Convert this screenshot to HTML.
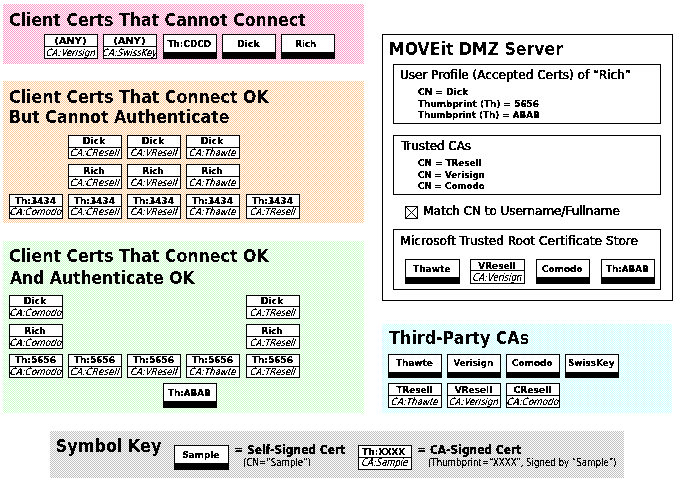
<!DOCTYPE html>
<html lang="en"><head><meta charset="utf-8"><title>MOVEit DMZ Client Certificates</title>
<style>
html,body{margin:0;padding:0;background:#fff;}
body{width:677px;height:482px;overflow:hidden;}
svg{display:block;font-family:"DejaVu Sans Condensed","DejaVu Sans","Liberation Sans",sans-serif;fill:#000;}
</style></head><body>
<svg width="677" height="482" viewBox="0 0 677 482" shape-rendering="crispEdges">
<defs>
<pattern id="pink" x="0" y="0" width="2" height="2" patternUnits="userSpaceOnUse"><rect width="2" height="2" fill="#fff"/><rect x="0" y="0" width="1" height="1" fill="#ff99cc"/><rect x="1" y="1" width="1" height="1" fill="#ff99cc"/></pattern>
<pattern id="orange" x="0" y="0" width="2" height="2" patternUnits="userSpaceOnUse"><rect width="2" height="2" fill="#fff"/><rect x="0" y="0" width="1" height="1" fill="#ffcc99"/><rect x="1" y="1" width="1" height="1" fill="#ffcc99"/></pattern>
<pattern id="green" x="0" y="0" width="2" height="2" patternUnits="userSpaceOnUse"><rect width="2" height="2" fill="#fff"/><rect x="0" y="0" width="1" height="1" fill="#ccffcc"/><rect x="1" y="1" width="1" height="1" fill="#ccffcc"/></pattern>
<pattern id="cyan" x="0" y="0" width="2" height="2" patternUnits="userSpaceOnUse"><rect width="2" height="2" fill="#fff"/><rect x="0" y="0" width="1" height="1" fill="#ccffff"/><rect x="1" y="1" width="1" height="1" fill="#ccffff"/></pattern>
<pattern id="grey" x="0" y="0" width="2" height="2" patternUnits="userSpaceOnUse"><rect width="2" height="2" fill="#fff"/><rect x="0" y="0" width="1" height="1" fill="#c0c0c0"/><rect x="1" y="1" width="1" height="1" fill="#c0c0c0"/></pattern>
<filter id="fh" x="0" y="0" width="100%" height="100%" filterUnits="userSpaceOnUse" color-interpolation-filters="sRGB"><feComponentTransfer><feFuncA type="discrete" tableValues="0 1"/></feComponentTransfer></filter>
<filter id="fb" x="0" y="0" width="100%" height="100%" filterUnits="userSpaceOnUse" color-interpolation-filters="sRGB"><feComponentTransfer><feFuncA type="discrete" tableValues="0 0 1 1 1"/></feComponentTransfer></filter>
<filter id="fr" x="0" y="0" width="100%" height="100%" filterUnits="userSpaceOnUse" color-interpolation-filters="sRGB"><feComponentTransfer><feFuncA type="discrete" tableValues="0 0 1 1 1"/></feComponentTransfer></filter>
<filter id="fs" x="0" y="0" width="100%" height="100%" filterUnits="userSpaceOnUse" color-interpolation-filters="sRGB"><feComponentTransfer><feFuncA type="discrete" tableValues="0 0 1 1 1"/></feComponentTransfer></filter>
<filter id="fi" x="0" y="0" width="100%" height="100%" filterUnits="userSpaceOnUse" color-interpolation-filters="sRGB"><feComponentTransfer><feFuncA type="discrete" tableValues="0 0 0 0 1 1 1 1 1 1 1"/></feComponentTransfer></filter>
</defs>
<rect width="677" height="482" fill="#fff"/>
<rect x="3" y="4" width="361" height="60" fill="url(#pink)"/>
<rect x="3" y="81" width="361" height="142" fill="url(#orange)"/>
<rect x="3" y="241" width="361" height="172" fill="url(#green)"/>
<rect x="382" y="324" width="290" height="89" fill="url(#cyan)"/>
<rect x="50" y="431" width="574" height="47" fill="url(#grey)"/>
<rect x="44.5" y="34.5" width="53" height="24" fill="#fff" stroke="#000" stroke-width="1"/>
<rect x="44" y="46" width="54" height="1" fill="#000"/>
<rect x="103.5" y="34.5" width="53" height="24" fill="#fff" stroke="#000" stroke-width="1"/>
<rect x="103" y="46" width="54" height="1" fill="#000"/>
<rect x="163.5" y="34.5" width="53" height="24" fill="#fff" stroke="#000" stroke-width="1"/>
<rect x="163" y="52" width="54" height="7" fill="#000"/>
<rect x="222.5" y="34.5" width="53" height="24" fill="#fff" stroke="#000" stroke-width="1"/>
<rect x="222" y="52" width="54" height="7" fill="#000"/>
<rect x="281.5" y="34.5" width="53" height="24" fill="#fff" stroke="#000" stroke-width="1"/>
<rect x="281" y="52" width="54" height="7" fill="#000"/>
<rect x="68.5" y="135.5" width="53" height="23" fill="#fff" stroke="#000" stroke-width="1"/>
<rect x="68" y="147" width="54" height="1" fill="#000"/>
<rect x="68.5" y="164.5" width="53" height="24" fill="#fff" stroke="#000" stroke-width="1"/>
<rect x="68" y="176" width="54" height="1" fill="#000"/>
<rect x="127.5" y="135.5" width="53" height="23" fill="#fff" stroke="#000" stroke-width="1"/>
<rect x="127" y="147" width="54" height="1" fill="#000"/>
<rect x="127.5" y="164.5" width="53" height="24" fill="#fff" stroke="#000" stroke-width="1"/>
<rect x="127" y="176" width="54" height="1" fill="#000"/>
<rect x="186.5" y="135.5" width="53" height="23" fill="#fff" stroke="#000" stroke-width="1"/>
<rect x="186" y="147" width="54" height="1" fill="#000"/>
<rect x="186.5" y="164.5" width="53" height="24" fill="#fff" stroke="#000" stroke-width="1"/>
<rect x="186" y="176" width="54" height="1" fill="#000"/>
<rect x="9.5" y="194.5" width="53" height="24" fill="#fff" stroke="#000" stroke-width="1"/>
<rect x="9" y="206" width="54" height="1" fill="#000"/>
<rect x="68.5" y="194.5" width="53" height="24" fill="#fff" stroke="#000" stroke-width="1"/>
<rect x="68" y="206" width="54" height="1" fill="#000"/>
<rect x="127.5" y="194.5" width="53" height="24" fill="#fff" stroke="#000" stroke-width="1"/>
<rect x="127" y="206" width="54" height="1" fill="#000"/>
<rect x="186.5" y="194.5" width="53" height="24" fill="#fff" stroke="#000" stroke-width="1"/>
<rect x="186" y="206" width="54" height="1" fill="#000"/>
<rect x="246.5" y="194.5" width="53" height="24" fill="#fff" stroke="#000" stroke-width="1"/>
<rect x="246" y="206" width="54" height="1" fill="#000"/>
<rect x="9.5" y="295.5" width="53" height="23" fill="#fff" stroke="#000" stroke-width="1"/>
<rect x="9" y="306" width="54" height="1" fill="#000"/>
<rect x="9.5" y="324.5" width="53" height="24" fill="#fff" stroke="#000" stroke-width="1"/>
<rect x="9" y="336" width="54" height="1" fill="#000"/>
<rect x="246.5" y="295.5" width="53" height="23" fill="#fff" stroke="#000" stroke-width="1"/>
<rect x="246" y="306" width="54" height="1" fill="#000"/>
<rect x="246.5" y="324.5" width="53" height="24" fill="#fff" stroke="#000" stroke-width="1"/>
<rect x="246" y="336" width="54" height="1" fill="#000"/>
<rect x="9.5" y="354.5" width="53" height="23" fill="#fff" stroke="#000" stroke-width="1"/>
<rect x="9" y="366" width="54" height="1" fill="#000"/>
<rect x="68.5" y="354.5" width="53" height="23" fill="#fff" stroke="#000" stroke-width="1"/>
<rect x="68" y="366" width="54" height="1" fill="#000"/>
<rect x="127.5" y="354.5" width="53" height="23" fill="#fff" stroke="#000" stroke-width="1"/>
<rect x="127" y="366" width="54" height="1" fill="#000"/>
<rect x="186.5" y="354.5" width="53" height="23" fill="#fff" stroke="#000" stroke-width="1"/>
<rect x="186" y="366" width="54" height="1" fill="#000"/>
<rect x="246.5" y="354.5" width="53" height="23" fill="#fff" stroke="#000" stroke-width="1"/>
<rect x="246" y="366" width="54" height="1" fill="#000"/>
<rect x="163.5" y="383.5" width="53" height="24" fill="#fff" stroke="#000" stroke-width="1"/>
<rect x="163" y="401" width="54" height="7" fill="#000"/>
<rect x="382.5" y="34.5" width="290" height="266" fill="#fff" stroke="#000" stroke-width="1"/>
<rect x="393.5" y="64.5" width="267" height="59" fill="#fff" stroke="#000" stroke-width="1"/>
<rect x="393.5" y="135.5" width="267" height="59" fill="#fff" stroke="#000" stroke-width="1"/>
<rect x="405.5" y="206.5" width="12" height="12" fill="#fff" stroke="#000" stroke-width="1"/>
<path d="M405.5 206.5L417.5 218.5M417.5 206.5L405.5 218.5" stroke="#000" stroke-width="1" fill="none" shape-rendering="auto"/>
<rect x="393.5" y="229.5" width="267" height="60" fill="#fff" stroke="#000" stroke-width="1"/>
<rect x="405.5" y="259.5" width="54" height="24" fill="#fff" stroke="#000" stroke-width="1"/>
<rect x="405" y="277" width="55" height="7" fill="#000"/>
<rect x="470.5" y="259.5" width="54" height="24" fill="#fff" stroke="#000" stroke-width="1"/>
<rect x="470" y="270" width="55" height="1" fill="#000"/>
<rect x="536.5" y="259.5" width="53" height="24" fill="#fff" stroke="#000" stroke-width="1"/>
<rect x="536" y="277" width="54" height="7" fill="#000"/>
<rect x="601.5" y="259.5" width="53" height="24" fill="#fff" stroke="#000" stroke-width="1"/>
<rect x="601" y="277" width="54" height="7" fill="#000"/>
<rect x="388.5" y="354.5" width="53" height="23" fill="#fff" stroke="#000" stroke-width="1"/>
<rect x="388" y="372" width="54" height="6" fill="#000"/>
<rect x="447.5" y="354.5" width="53" height="23" fill="#fff" stroke="#000" stroke-width="1"/>
<rect x="447" y="372" width="54" height="6" fill="#000"/>
<rect x="506.5" y="354.5" width="53" height="23" fill="#fff" stroke="#000" stroke-width="1"/>
<rect x="506" y="372" width="54" height="6" fill="#000"/>
<rect x="565.5" y="354.5" width="53" height="23" fill="#fff" stroke="#000" stroke-width="1"/>
<rect x="565" y="372" width="54" height="6" fill="#000"/>
<rect x="388.5" y="383.5" width="53" height="24" fill="#fff" stroke="#000" stroke-width="1"/>
<rect x="388" y="395" width="54" height="1" fill="#000"/>
<rect x="447.5" y="383.5" width="53" height="24" fill="#fff" stroke="#000" stroke-width="1"/>
<rect x="447" y="395" width="54" height="1" fill="#000"/>
<rect x="506.5" y="383.5" width="53" height="24" fill="#fff" stroke="#000" stroke-width="1"/>
<rect x="506" y="395" width="54" height="1" fill="#000"/>
<rect x="174.5" y="445.5" width="54" height="24" fill="#fff" stroke="#000" stroke-width="1"/>
<rect x="174" y="463" width="55" height="7" fill="#000"/>
<rect x="358.5" y="445.5" width="53" height="24" fill="#fff" stroke="#000" stroke-width="1"/>
<rect x="358" y="457" width="54" height="1" fill="#000"/>
<g filter="url(#fh)">
<text x="9" y="26" font-size="17.33" font-weight="bold" textLength="296.7" lengthAdjust="spacingAndGlyphs">Client Certs That Cannot Connect</text>
<text x="9" y="103" font-size="17.33" font-weight="bold" textLength="259.7" lengthAdjust="spacingAndGlyphs">Client Certs That Connect OK</text>
<text x="9" y="123" font-size="17.33" font-weight="bold" textLength="220.5" lengthAdjust="spacingAndGlyphs">But Cannot Authenticate</text>
<text x="9" y="262" font-size="17.33" font-weight="bold" textLength="259.7" lengthAdjust="spacingAndGlyphs">Client Certs That Connect OK</text>
<text x="10" y="284" font-size="17.33" font-weight="bold" textLength="184.5" lengthAdjust="spacingAndGlyphs">And Authenticate OK</text>
<text x="389" y="55" font-size="17.33" font-weight="bold" textLength="174" lengthAdjust="spacingAndGlyphs">MOVEit DMZ Server</text>
<text x="389.3" y="344" font-size="17.33" font-weight="bold" textLength="139.8" lengthAdjust="spacingAndGlyphs">Third-Party CAs</text>
<text x="55.8" y="452" font-size="17.33" font-weight="bold" textLength="105.6" lengthAdjust="spacingAndGlyphs">Symbol Key</text>
</g>
<g filter="url(#fb)" stroke="#000" stroke-width="0.1">
<text x="54.5" y="44.3" font-size="9.5" font-weight="bold" textLength="32" lengthAdjust="spacingAndGlyphs">(ANY)</text>
<text x="113.5" y="44.3" font-size="9.5" font-weight="bold" textLength="32" lengthAdjust="spacingAndGlyphs">(ANY)</text>
<text x="167.5" y="47.3" font-size="9.5" font-weight="bold" textLength="43.6" lengthAdjust="spacingAndGlyphs">Th:CDCD</text>
<text x="237" y="47.3" font-size="9.5" font-weight="bold" textLength="22.6" lengthAdjust="spacingAndGlyphs">Dick</text>
<text x="295.55" y="47.3" font-size="9.5" font-weight="bold" textLength="20.5" lengthAdjust="spacingAndGlyphs">Rich</text>
<text x="82.7" y="144.3" font-size="9.5" font-weight="bold" textLength="22.6" lengthAdjust="spacingAndGlyphs">Dick</text>
<text x="83.75" y="174.3" font-size="9.5" font-weight="bold" textLength="20.5" lengthAdjust="spacingAndGlyphs">Rich</text>
<text x="141.7" y="144.3" font-size="9.5" font-weight="bold" textLength="22.6" lengthAdjust="spacingAndGlyphs">Dick</text>
<text x="142.75" y="174.3" font-size="9.5" font-weight="bold" textLength="20.5" lengthAdjust="spacingAndGlyphs">Rich</text>
<text x="200.7" y="144.3" font-size="9.5" font-weight="bold" textLength="22.6" lengthAdjust="spacingAndGlyphs">Dick</text>
<text x="201.75" y="174.3" font-size="9.5" font-weight="bold" textLength="20.5" lengthAdjust="spacingAndGlyphs">Rich</text>
<text x="15" y="204.3" font-size="9.5" font-weight="bold" textLength="41" lengthAdjust="spacingAndGlyphs">Th:3434</text>
<text x="74" y="204.3" font-size="9.5" font-weight="bold" textLength="41" lengthAdjust="spacingAndGlyphs">Th:3434</text>
<text x="133" y="204.3" font-size="9.5" font-weight="bold" textLength="41" lengthAdjust="spacingAndGlyphs">Th:3434</text>
<text x="192" y="204.3" font-size="9.5" font-weight="bold" textLength="41" lengthAdjust="spacingAndGlyphs">Th:3434</text>
<text x="252" y="204.3" font-size="9.5" font-weight="bold" textLength="41" lengthAdjust="spacingAndGlyphs">Th:3434</text>
<text x="23.7" y="304.3" font-size="9.5" font-weight="bold" textLength="22.6" lengthAdjust="spacingAndGlyphs">Dick</text>
<text x="24.75" y="334.3" font-size="9.5" font-weight="bold" textLength="20.5" lengthAdjust="spacingAndGlyphs">Rich</text>
<text x="260.7" y="304.3" font-size="9.5" font-weight="bold" textLength="22.6" lengthAdjust="spacingAndGlyphs">Dick</text>
<text x="261.75" y="334.3" font-size="9.5" font-weight="bold" textLength="20.5" lengthAdjust="spacingAndGlyphs">Rich</text>
<text x="15" y="363.3" font-size="9.5" font-weight="bold" textLength="41" lengthAdjust="spacingAndGlyphs">Th:5656</text>
<text x="74" y="363.3" font-size="9.5" font-weight="bold" textLength="41" lengthAdjust="spacingAndGlyphs">Th:5656</text>
<text x="133" y="363.3" font-size="9.5" font-weight="bold" textLength="41" lengthAdjust="spacingAndGlyphs">Th:5656</text>
<text x="192" y="363.3" font-size="9.5" font-weight="bold" textLength="41" lengthAdjust="spacingAndGlyphs">Th:5656</text>
<text x="252" y="363.3" font-size="9.5" font-weight="bold" textLength="41" lengthAdjust="spacingAndGlyphs">Th:5656</text>
<text x="168.05" y="396.3" font-size="9.5" font-weight="bold" textLength="42.5" lengthAdjust="spacingAndGlyphs">Th:ABAB</text>
<text x="418" y="95.3" font-size="9.5" font-weight="bold" textLength="50" lengthAdjust="spacingAndGlyphs">CN = Dick</text>
<text x="418" y="107.3" font-size="9.5" font-weight="bold" textLength="121" lengthAdjust="spacingAndGlyphs">Thumbprint (Th) = 5656</text>
<text x="418" y="118.3" font-size="9.5" font-weight="bold" textLength="121.8" lengthAdjust="spacingAndGlyphs">Thumbprint (Th) = ABAB</text>
<text x="418" y="166.3" font-size="9.5" font-weight="bold" textLength="63.6" lengthAdjust="spacingAndGlyphs">CN = TResell</text>
<text x="418" y="177.8" font-size="9.5" font-weight="bold" textLength="66.8" lengthAdjust="spacingAndGlyphs">CN = Verisign</text>
<text x="418" y="189.3" font-size="9.5" font-weight="bold" textLength="66.8" lengthAdjust="spacingAndGlyphs">CN = Comodo</text>
<text x="413.3" y="272.3" font-size="9.5" font-weight="bold" textLength="37" lengthAdjust="spacingAndGlyphs">Thawte</text>
<text x="478.25" y="269.3" font-size="9.5" font-weight="bold" textLength="37.5" lengthAdjust="spacingAndGlyphs">VResell</text>
<text x="542.05" y="272.3" font-size="9.5" font-weight="bold" textLength="40.5" lengthAdjust="spacingAndGlyphs">Comodo</text>
<text x="606.05" y="272.3" font-size="9.5" font-weight="bold" textLength="42.5" lengthAdjust="spacingAndGlyphs">Th:ABAB</text>
<text x="395.8" y="366.3" font-size="9.5" font-weight="bold" textLength="37" lengthAdjust="spacingAndGlyphs">Thawte</text>
<text x="453.4" y="366.3" font-size="9.5" font-weight="bold" textLength="39.8" lengthAdjust="spacingAndGlyphs">Verisign</text>
<text x="512.05" y="366.3" font-size="9.5" font-weight="bold" textLength="40.5" lengthAdjust="spacingAndGlyphs">Comodo</text>
<text x="567.95" y="366.3" font-size="9.5" font-weight="bold" textLength="46.7" lengthAdjust="spacingAndGlyphs">SwissKey</text>
<text x="396.5" y="393.3" font-size="9.5" font-weight="bold" textLength="36" lengthAdjust="spacingAndGlyphs">TResell</text>
<text x="454.75" y="393.3" font-size="9.5" font-weight="bold" textLength="37.5" lengthAdjust="spacingAndGlyphs">VResell</text>
<text x="513.5" y="393.3" font-size="9.5" font-weight="bold" textLength="38" lengthAdjust="spacingAndGlyphs">CResell</text>
<text x="182.3" y="458.3" font-size="9.5" font-weight="bold" textLength="37" lengthAdjust="spacingAndGlyphs">Sample</text>
<text x="234.3" y="454" font-size="12" font-weight="bold" textLength="111" lengthAdjust="spacingAndGlyphs">= Self-Signed Cert</text>
<text x="362.6" y="455.3" font-size="9.5" font-weight="bold" textLength="42.4" lengthAdjust="spacingAndGlyphs">Th:XXXX</text>
<text x="417.3" y="454" font-size="12" font-weight="bold" textLength="104" lengthAdjust="spacingAndGlyphs">= CA-Signed Cert</text>
</g>
<g filter="url(#fr)" stroke="#000" stroke-width="0.3">
<text x="400" y="79" font-size="12.4" textLength="231" lengthAdjust="spacingAndGlyphs">User Profile (Accepted Certs) of “Rich”</text>
<text x="401" y="149.5" font-size="12.4" textLength="70" lengthAdjust="spacingAndGlyphs">Trusted CAs</text>
<text x="423.3" y="215" font-size="12.4" textLength="196.5" lengthAdjust="spacingAndGlyphs">Match CN to Username/Fullname</text>
<text x="400.5" y="244.5" font-size="12.4" textLength="237.5" lengthAdjust="spacingAndGlyphs">Microsoft Trusted Root Certificate Store</text>
</g>
<g filter="url(#fs)">
<text x="243" y="466" font-size="10" textLength="68" lengthAdjust="spacingAndGlyphs">(CN=“Sample”)</text>
<text x="428" y="466" font-size="10" textLength="188.5" lengthAdjust="spacingAndGlyphs">(Thumbprint=“XXXX”, Signed by “Sample”)</text>
</g>
<g filter="url(#fi)">
<text transform="translate(46.1 56) skewX(-9)" font-size="10" font-style="italic" textLength="49" lengthAdjust="spacingAndGlyphs">CA:Verisign</text>
<text transform="translate(102.35 56) skewX(-9)" font-size="10" font-style="italic" textLength="54.5" lengthAdjust="spacingAndGlyphs">CA:SwissKey</text>
<text transform="translate(70.3 156) skewX(-9)" font-size="10" font-style="italic" textLength="48.6" lengthAdjust="spacingAndGlyphs">CA:CResell</text>
<text transform="translate(70.3 186) skewX(-9)" font-size="10" font-style="italic" textLength="48.6" lengthAdjust="spacingAndGlyphs">CA:CResell</text>
<text transform="translate(130.4 156) skewX(-9)" font-size="10" font-style="italic" textLength="46.4" lengthAdjust="spacingAndGlyphs">CA:VResell</text>
<text transform="translate(130.4 186) skewX(-9)" font-size="10" font-style="italic" textLength="46.4" lengthAdjust="spacingAndGlyphs">CA:VResell</text>
<text transform="translate(189.3 156) skewX(-9)" font-size="10" font-style="italic" textLength="46.6" lengthAdjust="spacingAndGlyphs">CA:Thawte</text>
<text transform="translate(189.3 186) skewX(-9)" font-size="10" font-style="italic" textLength="46.6" lengthAdjust="spacingAndGlyphs">CA:Thawte</text>
<text transform="translate(9.85 215) skewX(-9)" font-size="10" font-style="italic" textLength="51.5" lengthAdjust="spacingAndGlyphs">CA:Comodo</text>
<text transform="translate(70.3 215) skewX(-9)" font-size="10" font-style="italic" textLength="48.6" lengthAdjust="spacingAndGlyphs">CA:CResell</text>
<text transform="translate(130.4 215) skewX(-9)" font-size="10" font-style="italic" textLength="46.4" lengthAdjust="spacingAndGlyphs">CA:VResell</text>
<text transform="translate(189.3 215) skewX(-9)" font-size="10" font-style="italic" textLength="46.6" lengthAdjust="spacingAndGlyphs">CA:Thawte</text>
<text transform="translate(250.1 215) skewX(-9)" font-size="10" font-style="italic" textLength="45" lengthAdjust="spacingAndGlyphs">CA:TResell</text>
<text transform="translate(9.85 316) skewX(-9)" font-size="10" font-style="italic" textLength="51.5" lengthAdjust="spacingAndGlyphs">CA:Comodo</text>
<text transform="translate(9.85 346) skewX(-9)" font-size="10" font-style="italic" textLength="51.5" lengthAdjust="spacingAndGlyphs">CA:Comodo</text>
<text transform="translate(250.1 316) skewX(-9)" font-size="10" font-style="italic" textLength="45" lengthAdjust="spacingAndGlyphs">CA:TResell</text>
<text transform="translate(250.1 346) skewX(-9)" font-size="10" font-style="italic" textLength="45" lengthAdjust="spacingAndGlyphs">CA:TResell</text>
<text transform="translate(9.85 374.5) skewX(-9)" font-size="10" font-style="italic" textLength="51.5" lengthAdjust="spacingAndGlyphs">CA:Comodo</text>
<text transform="translate(70.3 374.5) skewX(-9)" font-size="10" font-style="italic" textLength="48.6" lengthAdjust="spacingAndGlyphs">CA:CResell</text>
<text transform="translate(130.4 374.5) skewX(-9)" font-size="10" font-style="italic" textLength="46.4" lengthAdjust="spacingAndGlyphs">CA:VResell</text>
<text transform="translate(189.3 374.5) skewX(-9)" font-size="10" font-style="italic" textLength="46.6" lengthAdjust="spacingAndGlyphs">CA:Thawte</text>
<text transform="translate(250.1 374.5) skewX(-9)" font-size="10" font-style="italic" textLength="45" lengthAdjust="spacingAndGlyphs">CA:TResell</text>
<text transform="translate(472.6 281) skewX(-9)" font-size="10" font-style="italic" textLength="49" lengthAdjust="spacingAndGlyphs">CA:Verisign</text>
<text transform="translate(391.3 405) skewX(-9)" font-size="10" font-style="italic" textLength="46.6" lengthAdjust="spacingAndGlyphs">CA:Thawte</text>
<text transform="translate(449.1 405) skewX(-9)" font-size="10" font-style="italic" textLength="49" lengthAdjust="spacingAndGlyphs">CA:Verisign</text>
<text transform="translate(506.85 405) skewX(-9)" font-size="10" font-style="italic" textLength="51.5" lengthAdjust="spacingAndGlyphs">CA:Comodo</text>
<text transform="translate(361.6 466) skewX(-9)" font-size="10" font-style="italic" textLength="46" lengthAdjust="spacingAndGlyphs">CA:Sample</text>
</g>
</svg>
</body></html>
